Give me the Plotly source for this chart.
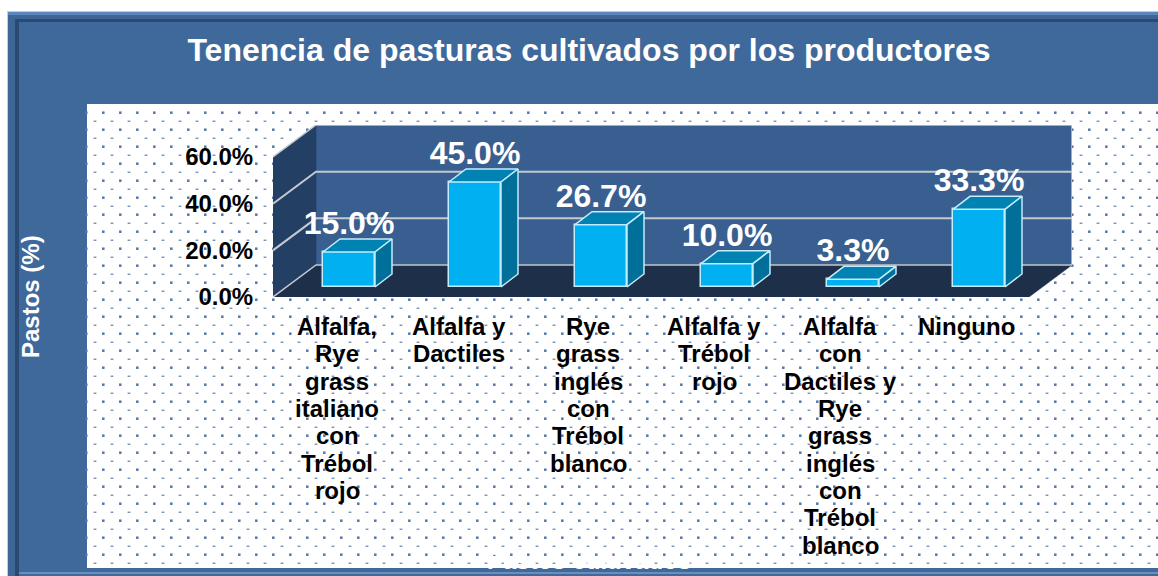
import numpy as np
import plotly.graph_objects as go

categories = ["Alfalfa,<br>Rye<br>grass<br>italiano<br>con<br>Trébol<br>rojo",
              "Alfalfa y<br>Dactiles",
              "Rye<br>grass<br>inglés<br>con<br>Trébol<br>blanco",
              "Alfalfa y<br>Trébol<br>rojo",
              "Alfalfa<br>con<br>Dactiles y<br>Rye<br>grass<br>inglés<br>con<br>Trébol<br>blanco",
              "Ninguno"]
values = [15.0, 45.0, 26.7, 10.0, 3.3, 33.3]
value_ticks = [0, 20, 40, 60]
title = "Tenencia de pasturas cultivados por los productores"
y_title = "Pastos (%)"
x_title = "Pastos cultivados"

W, H = 1158, 576
FONT = "Liberation Sans, Arial, sans-serif"

# pixel geometry of the pseudo-3D plot
FRONT_L, FRONT_R = 273.0, 1029.0
FRONT_0, FRONT_60 = 297.0, 157.0
DEPTH_X, DEPTH_Y = 43.0, 32.0
UX = (FRONT_R - FRONT_L) / 6.0        # px per category
UY = (FRONT_0 - FRONT_60) / 60.0      # px per percent
dx, dy = DEPTH_X / UX, DEPTH_Y / UY   # wall depth in data units
x_lo, x_hi = -0.5, 5.5
y_hi = 60.0
bar_w = 52.0 / UX
bar_dx, bar_dy = 13.0 / UX, 10.0 / UY
top_dx, top_dy = 17.0 / UX, 13.0 / UY
label_gap = 10.0 / UY

fig = go.Figure()

# dotted paper texture (background subplot in pixel coordinates)
ax_rows = np.arange(112.7, 568, 17.0)
bx_rows = np.arange(121.2, 568, 17.0)
cols_a = np.arange(86.3, 1158, 17.0)
cols_b = np.arange(95.0, 1158, 17.0)
xs, ys = np.meshgrid(cols_a, ax_rows)
fig.add_trace(go.Scatter(x=xs.ravel().tolist(), y=ys.ravel().tolist(), mode="markers",
                         marker=dict(symbol="square", size=2.5, color="#4f76aa", line_width=0),
                         hoverinfo="skip", showlegend=False, xaxis="x", yaxis="y"))
xs, ys = np.meshgrid(cols_b, bx_rows)
fig.add_trace(go.Scatter(x=xs.ravel().tolist(), y=ys.ravel().tolist(), mode="markers",
                         marker=dict(symbol="line-ew", size=2, color="#3f669c", line=dict(color="#3f669c", width=1)),
                         hoverinfo="skip", showlegend=False, xaxis="x", yaxis="y"))

# bars: front faces
xpos = [i + bar_dx for i in range(len(values))]
EDGE = "#c4ecfa"
fig.add_trace(go.Bar(x=xpos, y=values, base=bar_dy, width=bar_w, xaxis="x2", yaxis="y2",
                     marker=dict(color="#00b0f0", line=dict(color=EDGE, width=1.5)),
                     showlegend=False, hoverinfo="skip"))
# bars: top and side faces
for xp, v in zip(xpos, values):
    l, r = xp - bar_w / 2, xp + bar_w / 2
    t = v + bar_dy
    fig.add_trace(go.Scatter(x=[l, r, r + top_dx, l + top_dx, l], y=[t, t, t + top_dy, t + top_dy, t],
                             mode="lines", fill="toself", fillcolor="#0083b3", line=dict(color=EDGE, width=1.5),
                             showlegend=False, hoverinfo="skip", xaxis="x2", yaxis="y2"))
    fig.add_trace(go.Scatter(x=[r, r + top_dx, r + top_dx, r, r],
                             y=[bar_dy, bar_dy + top_dy, t + top_dy, t, bar_dy],
                             mode="lines", fill="toself", fillcolor="#006f9a", line=dict(color=EDGE, width=1.5),
                             showlegend=False, hoverinfo="skip", xaxis="x2", yaxis="y2"))
# value labels
fig.add_trace(go.Scatter(x=xpos, y=[v + bar_dy + label_gap for v in values], mode="text",
                         text=[f"{v:.1f}%" for v in values], textposition="top center",
                         textfont=dict(family=FONT, size=32, color="white", weight="bold"),
                         showlegend=False, hoverinfo="skip", cliponaxis=False, xaxis="x2", yaxis="y2"))

def rect(x0, y0, x1, y1, color):
    return dict(type="rect", xref="paper", yref="paper", layer="below", x0=x0 / W, x1=x1 / W,
                y0=1 - y0 / H, y1=1 - y1 / H, fillcolor=color, line_width=0)

def poly(pts, color):
    path = "M" + " L".join(f"{a},{b}" for a, b in pts) + " Z"
    return dict(type="path", path=path, xref="x2", yref="y2", layer="below", fillcolor=color,
                line=dict(color=color, width=0.5))

shapes = [
    rect(7, 11, W + 5, H + 5, "#c9cdd2"),
    rect(8, 12, W + 5, H + 5, "#5b86bd"),
    rect(8, 15, W + 5, H + 5, "#3d6696"),
    rect(15, 19, W + 5, H + 5, "#2b4a73"),
    rect(19, 22, W + 5, H + 5, "#3f699b"),
    rect(87, 104, W, 568, "#ffffff"),
    rect(19, 572, W + 5, 574, "#6a8fbf"),
    # pseudo-3D walls
    poly([(x_lo + dx, dy), (x_hi + dx, dy), (x_hi + dx, y_hi + dy), (x_lo + dx, y_hi + dy)], "#385f90"),
    poly([(x_lo, 0), (x_lo + dx, dy), (x_lo + dx, y_hi + dy), (x_lo, y_hi)], "#233f63"),
    poly([(x_lo, 0), (x_hi, 0), (x_hi + dx, dy), (x_lo + dx, dy)], "#1e2f4a"),
    dict(type="line", xref="x2", yref="y2", layer="below", x0=x_hi + dx, x1=x_hi + dx, y0=dy, y1=y_hi + dy,
         line=dict(color="#c4c9d0", width=1.5)),
]
for tk in value_ticks:
    shapes.append(dict(type="path", xref="x2", yref="y2", layer="below",
                       path=f"M{x_lo},{tk} L{x_lo + dx},{tk + dy} L{x_hi + dx},{tk + dy}",
                       line=dict(color="#c4c9d0", width=2 if 0 < tk < 60 else 1.5)))

# category labels, one annotation per line for the tight leading of the original
annotations = []
LINE_0, LINE_STEP = 326.5, 27.35
label_nudge = [1, -3, 0, 0, 0, 0]
for i, cat in enumerate(categories):
    for j, line in enumerate(cat.split("<br>")):
        annotations.append(dict(text=line, x=i, xref="x2", xshift=label_nudge[i],
                                y=1 - (LINE_0 + j * LINE_STEP) / H, yref="paper",
                                xanchor="center", yanchor="middle", showarrow=False,
                                font=dict(family=FONT, size=24, color="black", weight="bold")))
annotations.append(dict(text=y_title, x=30 / W, y=1 - 297 / H, xref="paper", yref="paper", textangle=-90,
                        xanchor="center", yanchor="middle", showarrow=False,
                        font=dict(family=FONT, size=24, color="white", weight="bold")))
annotations.append(dict(text=x_title, x=589 / W, y=1 - 560 / H, xref="paper", yref="paper",
                        xanchor="center", yanchor="middle", showarrow=False,
                        font=dict(family=FONT, size=24, color="white", weight="bold")))

fig.update_layout(
    width=W, height=H, autosize=False, margin=dict(l=0, r=0, t=0, b=0),
    paper_bgcolor="white", plot_bgcolor="rgba(0,0,0,0)", showlegend=False, bargap=0,
    title=dict(text=title, x=589 / W, xanchor="center", y=1 - 50 / H, yanchor="middle",
               font=dict(family=FONT, size=32, color="white", weight="bold")),
    xaxis=dict(domain=[0, 1], range=[0, W], visible=False, fixedrange=True, automargin=False),
    yaxis=dict(domain=[0, 1], range=[H, 0], visible=False, fixedrange=True, automargin=False),
    xaxis2=dict(domain=[FRONT_L / W, (FRONT_R + DEPTH_X) / W], range=[x_lo, x_hi + dx], anchor="y2",
                automargin=False, showgrid=False, zeroline=False, showline=False, tickmode="array",
                tickvals=list(range(6)), ticktext=[""] * 6),
    yaxis2=dict(domain=[1 - (FRONT_0) / H, 1 - (FRONT_60 - DEPTH_Y) / H], range=[0, y_hi + dy], anchor="x2",
                automargin=False, showgrid=False, zeroline=False, showline=False, tickmode="array",
                tickvals=value_ticks, ticktext=[f"{t:.1f}%" for t in value_ticks], ticks="outside", ticklen=14,
                tickcolor="rgba(0,0,0,0)", tickfont=dict(family=FONT, size=24, color="black", weight="bold")),
    shapes=shapes, annotations=annotations,
)
fig.write_html("out.html", config=dict(displayModeBar=False),
               post_script="document.body.style.margin='0';document.body.style.overflow='hidden';")
